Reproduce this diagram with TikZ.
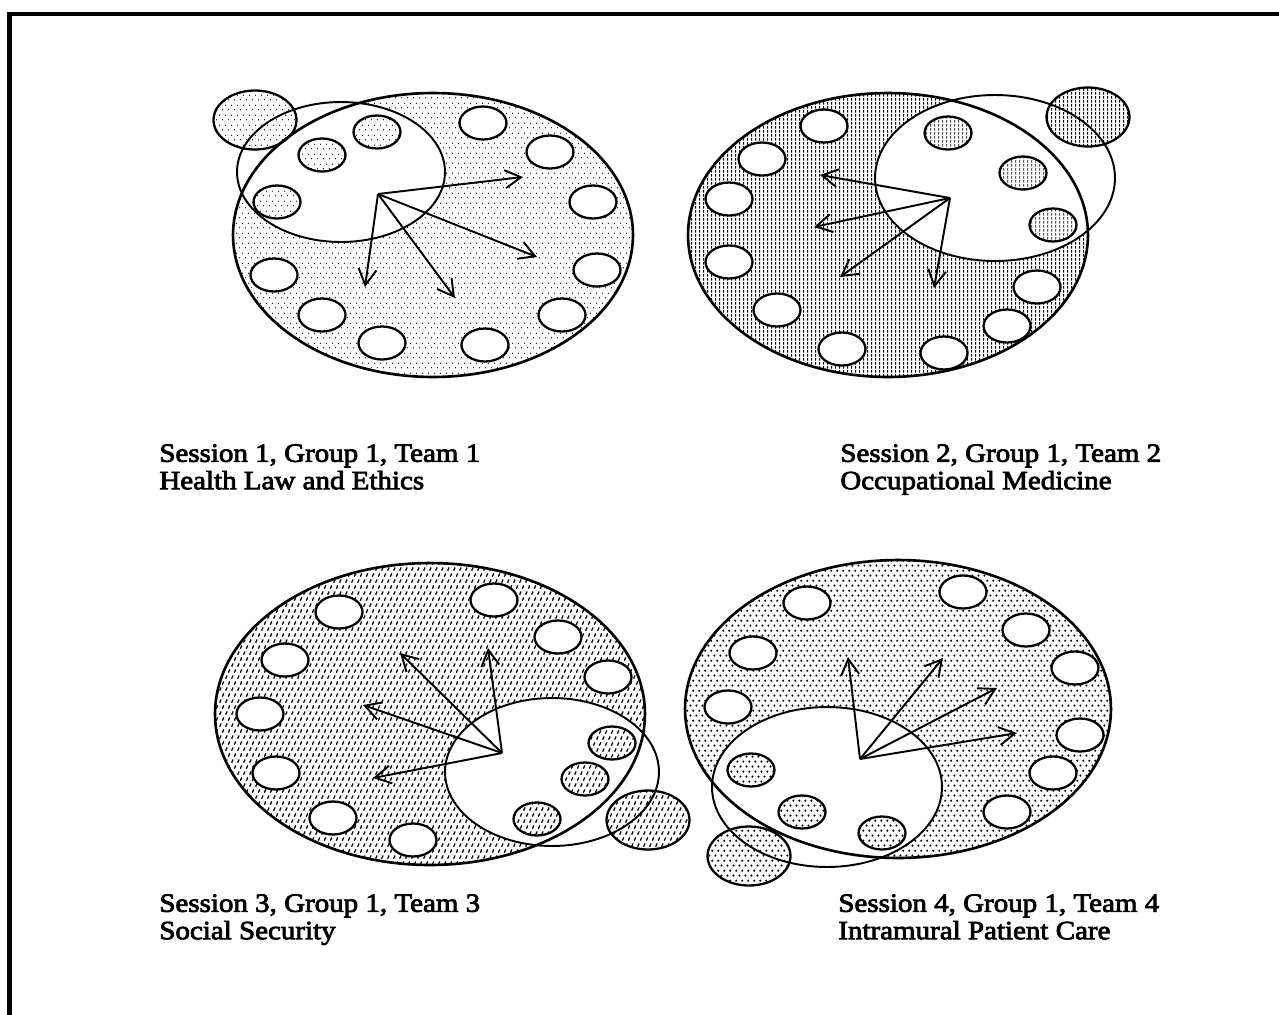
\documentclass[tikz,border=0pt]{standalone}
\usepackage{fontspec}
\setmainfont{Liberation Serif}[FakeStretch=1.1,FakeBold=3]
\usetikzlibrary{arrows.meta,shapes.geometric,patterns}

\pgfdeclarepatternformonly{finedots}{\pgfpointorigin}{\pgfqpoint{3.4pt}{5.4pt}}{\pgfqpoint{3.4pt}{5.4pt}}{%
  \pgfpathcircle{\pgfqpoint{0.85pt}{1.35pt}}{0.35pt}%
  \pgfpathcircle{\pgfqpoint{2.55pt}{4.05pt}}{0.35pt}%
  \pgfusepath{fill}}
\pgfdeclarepatternformonly{vdashes}{\pgfpointorigin}{\pgfqpoint{2.3pt}{2.3pt}}{\pgfqpoint{2.3pt}{2.3pt}}{%
  \pgfsetlinewidth{0.55pt}%
  \pgfpathmoveto{\pgfqpoint{1.15pt}{0.3pt}}%
  \pgfpathlineto{\pgfqpoint{1.15pt}{2pt}}%
  \pgfusepath{stroke}}
\pgfdeclarepatternformonly{slashes}{\pgfpointorigin}{\pgfqpoint{3.2pt}{6.8pt}}{\pgfqpoint{3.2pt}{6.8pt}}{%
  \pgfsetlinewidth{0.75pt}%
  \pgfpathmoveto{\pgfqpoint{0.4pt}{0.8pt}}\pgfpathlineto{\pgfqpoint{1.3pt}{2.6pt}}%
  \pgfpathmoveto{\pgfqpoint{2pt}{4.2pt}}\pgfpathlineto{\pgfqpoint{2.9pt}{6pt}}%
  \pgfusepath{stroke}}
\pgfdeclarepatternformonly{coarsedots}{\pgfpointorigin}{\pgfqpoint{3.6pt}{5.6pt}}{\pgfqpoint{3.6pt}{5.6pt}}{%
  \pgfpathcircle{\pgfqpoint{0.9pt}{1.4pt}}{0.7pt}%
  \pgfpathcircle{\pgfqpoint{2.7pt}{4.2pt}}{0.7pt}%
  \pgfusepath{fill}}

\begin{document}
\begin{tikzpicture}[x=0.02cm,y=-0.02cm,
  rim/.style={line width=1.5pt},
  teamrim/.style={line width=1.1pt},
  seat/.style={ellipse,draw,line width=1.3pt,fill=white,inner sep=0pt,minimum width=0.94cm,minimum height=0.66cm},
  member/.style={seat,pattern=#1},
  guest/.style={ellipse,draw,line width=1.3pt,pattern=#1,inner sep=0pt,minimum width=1.66cm,minimum height=1.18cm},
  link/.style={-{Straight Barb[length=3.2mm,width=3.6mm]},line width=1.1pt},
  caption/.style={anchor=north west,inner sep=0pt,align=left,font=\fontsize{15}{15.6}\selectfont}]
\useasboundingbox (0,0) rectangle (1279,1015);
\draw[line width=2.8pt] (9.5,1015) -- (9.5,14) -- (1279,14);

% session 1
\coordinate (g1) at (433,235);
\coordinate (t1) at (341,172);
\fill[pattern=finedots] (g1) ellipse [x radius=4cm,y radius=2.84cm];
\fill[white] (t1) ellipse [x radius=2.08cm,y radius=1.4cm];
\draw[rim] (g1) ellipse [x radius=4cm,y radius=2.84cm];
\draw[teamrim] (t1) ellipse [x radius=2.08cm,y radius=1.4cm];
\node[seat] (s1a) at (483,123) {};
\node[seat] (s1b) at (550,152) {};
\node[seat] (s1c) at (593,202) {};
\node[seat] (s1d) at (597,270) {};
\node[seat] (s1e) at (562,315) {};
\node[seat] (s1f) at (485,345) {};
\node[seat] (s1g) at (382,343) {};
\node[seat] (s1h) at (322,315) {};
\node[seat] (s1i) at (274,275) {};
\node[member=finedots] (m1a) at (377,132) {};
\node[member=finedots] (m1b) at (322,155) {};
\node[member=finedots] (m1c) at (277,202) {};
\node[guest=finedots] (v1) at (255,120) {};
\coordinate (o1) at (378,194);
\coordinate (e1a) at (523,177);
\coordinate (e1b) at (537,257);
\coordinate (e1c) at (455,298);
\coordinate (e1d) at (365,287);
\draw[link] (o1) -- (e1a);
\draw[link] (o1) -- (e1b);
\draw[link] (o1) -- (e1c);
\draw[link] (o1) -- (e1d);
\node[caption] (c1) at (159,444) {Session 1, Group 1, Team 1\\Health Law and Ethics};

% session 2
\coordinate (g2) at (888,235);
\coordinate (t2) at (995,178);
\fill[pattern=vdashes] (g2) ellipse [x radius=4cm,y radius=2.84cm];
\fill[white] (t2) ellipse [x radius=2.4cm,y radius=1.66cm];
\draw[rim] (g2) ellipse [x radius=4cm,y radius=2.84cm];
\draw[teamrim] (t2) ellipse [x radius=2.4cm,y radius=1.66cm];
\node[seat] (s2a) at (824,126) {};
\node[seat] (s2b) at (762,159) {};
\node[seat] (s2c) at (729,199) {};
\node[seat] (s2d) at (729,262) {};
\node[seat] (s2e) at (777,310) {};
\node[seat] (s2f) at (842,349) {};
\node[seat] (s2g) at (944,353) {};
\node[seat] (s2h) at (1007,326) {};
\node[seat] (s2i) at (1037,287) {};
\node[member=vdashes] (m2a) at (948,133) {};
\node[member=vdashes] (m2b) at (1023,173) {};
\node[member=vdashes] (m2c) at (1053,225) {};
\node[guest=vdashes] (v2) at (1088,117) {};
\coordinate (o2) at (950,198);
\coordinate (e2a) at (820,175);
\coordinate (e2b) at (814,227);
\coordinate (e2c) at (840,277);
\coordinate (e2d) at (934,288);
\draw[link] (o2) -- (e2a);
\draw[link] (o2) -- (e2b);
\draw[link] (o2) -- (e2c);
\draw[link] (o2) -- (e2d);
\node[caption] (c2) at (840,444) {Session 2, Group 1, Team 2\\Occupational Medicine};

% session 3
\coordinate (g3) at (430,714);
\coordinate (t3) at (552,772);
\fill[pattern=slashes] (g3) ellipse [x radius=4.3cm,y radius=3.02cm];
\fill[white] (t3) ellipse [x radius=2.14cm,y radius=1.48cm];
\draw[rim] (g3) ellipse [x radius=4.3cm,y radius=3.02cm];
\draw[teamrim] (t3) ellipse [x radius=2.14cm,y radius=1.48cm];
\node[seat] (s3a) at (339,612) {};
\node[seat] (s3b) at (494,600) {};
\node[seat] (s3c) at (558,637) {};
\node[seat] (s3d) at (608,677) {};
\node[seat] (s3e) at (285,660) {};
\node[seat] (s3f) at (260,714) {};
\node[seat] (s3g) at (276,773) {};
\node[seat] (s3h) at (333,818) {};
\node[seat] (s3i) at (413,840) {};
\node[member=slashes] (m3a) at (612,743) {};
\node[member=slashes] (m3b) at (585,779) {};
\node[member=slashes] (m3c) at (537,819) {};
\node[guest=slashes] (v3) at (648,820) {};
\coordinate (o3) at (502,753);
\coordinate (e3a) at (400,653);
\coordinate (e3b) at (488,648);
\coordinate (e3c) at (363,705);
\coordinate (e3d) at (373,778);
\draw[link] (o3) -- (e3a);
\draw[link] (o3) -- (e3b);
\draw[link] (o3) -- (e3c);
\draw[link] (o3) -- (e3d);
\node[caption] (c3) at (159,894) {Session 3, Group 1, Team 3\\Social Security};

% session 4
\coordinate (g4) at (898,709);
\coordinate (t4) at (827,787);
\fill[pattern=coarsedots] (g4) ellipse [x radius=4.26cm,y radius=2.98cm];
\fill[white] (t4) ellipse [x radius=2.3cm,y radius=1.6cm];
\draw[rim] (g4) ellipse [x radius=4.26cm,y radius=2.98cm];
\draw[teamrim] (t4) ellipse [x radius=2.3cm,y radius=1.6cm];
\node[seat] (s4a) at (807,603) {};
\node[seat] (s4b) at (963,592) {};
\node[seat] (s4c) at (1026,630) {};
\node[seat] (s4d) at (1075,668) {};
\node[seat] (s4e) at (1080,735) {};
\node[seat] (s4f) at (1053,773) {};
\node[seat] (s4g) at (1007,812) {};
\node[seat] (s4h) at (753,653) {};
\node[seat] (s4i) at (728,707) {};
\node[member=coarsedots] (m4a) at (751,770) {};
\node[member=coarsedots] (m4b) at (802,812) {};
\node[member=coarsedots] (m4c) at (882,833) {};
\node[guest=coarsedots] (v4) at (749,856) {};
\coordinate (o4) at (860,759);
\coordinate (e4a) at (848,657);
\coordinate (e4b) at (943,658);
\coordinate (e4c) at (997,688);
\coordinate (e4d) at (1017,733);
\draw[link] (o4) -- (e4a);
\draw[link] (o4) -- (e4b);
\draw[link] (o4) -- (e4c);
\draw[link] (o4) -- (e4d);
\node[caption] (c4) at (838,894) {Session 4, Group 1, Team 4\\Intramural Patient Care};
\end{tikzpicture}
\end{document}
